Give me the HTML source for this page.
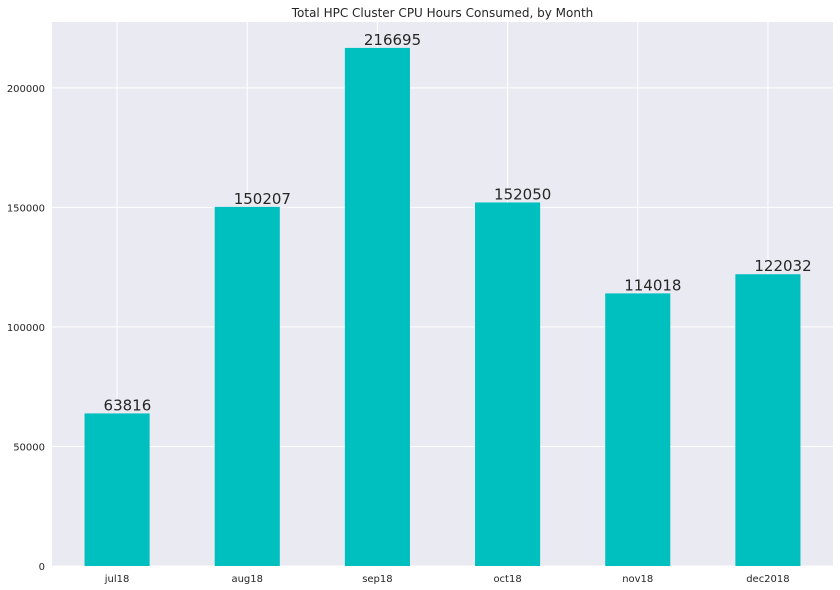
<!DOCTYPE html>
<html><head><meta charset="utf-8"><style>
body{margin:0;background:#fff;}
svg{display:block;font-family:"DejaVu Sans","Liberation Sans",sans-serif;}
</style></head><body>
<svg id="chart" width="840" height="590"></svg>
<script>
const categories = ["jul18","aug18","sep18","oct18","nov18","dec2018"];
const values = [63816,150207,216695,152050,114018,122032];
const yTicks = [0,50000,100000,150000,200000];
const NS="http://www.w3.org/2000/svg";
const svg=document.getElementById('chart');
const L=52,R=833,T=22,B=566;
const yMax=Math.max(...values)*1.05;
const step=(R-L)/categories.length;
function x(i){return L+step*(i+0.5);}
function y(v){return B-(v/yMax)*(B-T);}
function mk(tag,attrs,parent){const e=document.createElementNS(NS,tag);for(const k in attrs)e.setAttribute(k,attrs[k]);(parent||svg).appendChild(e);return e;}
const bg=mk('rect',{x:L,y:T,width:R-L,height:B-T,fill:'#eaeaf2'});


yTicks.forEach(t=>{
  const g=mk('line',{x1:L,x2:R,y1:y(t),y2:y(t),stroke:'#fff','stroke-width':1});
  
  
  const lb=mk('text',{x:L-7,y:y(t)+4,'text-anchor':'end','font-size':10,fill:'#262626'});
  lb.textContent=t;
  
  
});
categories.forEach((c,i)=>{
  const g=mk('line',{x1:x(i),x2:x(i),y1:T,y2:B,stroke:'#fff','stroke-width':1});
  
  
});
const bw=step*0.5;
categories.forEach((c,i)=>{
  const b=mk('rect',{x:x(i)-bw/2,y:y(values[i]),width:bw,height:B-y(values[i]),fill:'#00bfbf'});
  
  
  const v=mk('text',{x:x(i)-bw/2+19,y:y(values[i])-3,'font-size':15,fill:'#262626'});
  v.textContent=values[i];
  
  
  const lb=mk('text',{x:x(i),y:B+16,'text-anchor':'middle','font-size':10,fill:'#262626'});
  lb.textContent=c;
  
  
});
const title=mk('text',{x:(L+R)/2,y:17,'text-anchor':'middle','font-size':12,fill:'#262626'});
title.textContent='Total HPC Cluster CPU Hours Consumed, by Month';


</script>
</body></html>
